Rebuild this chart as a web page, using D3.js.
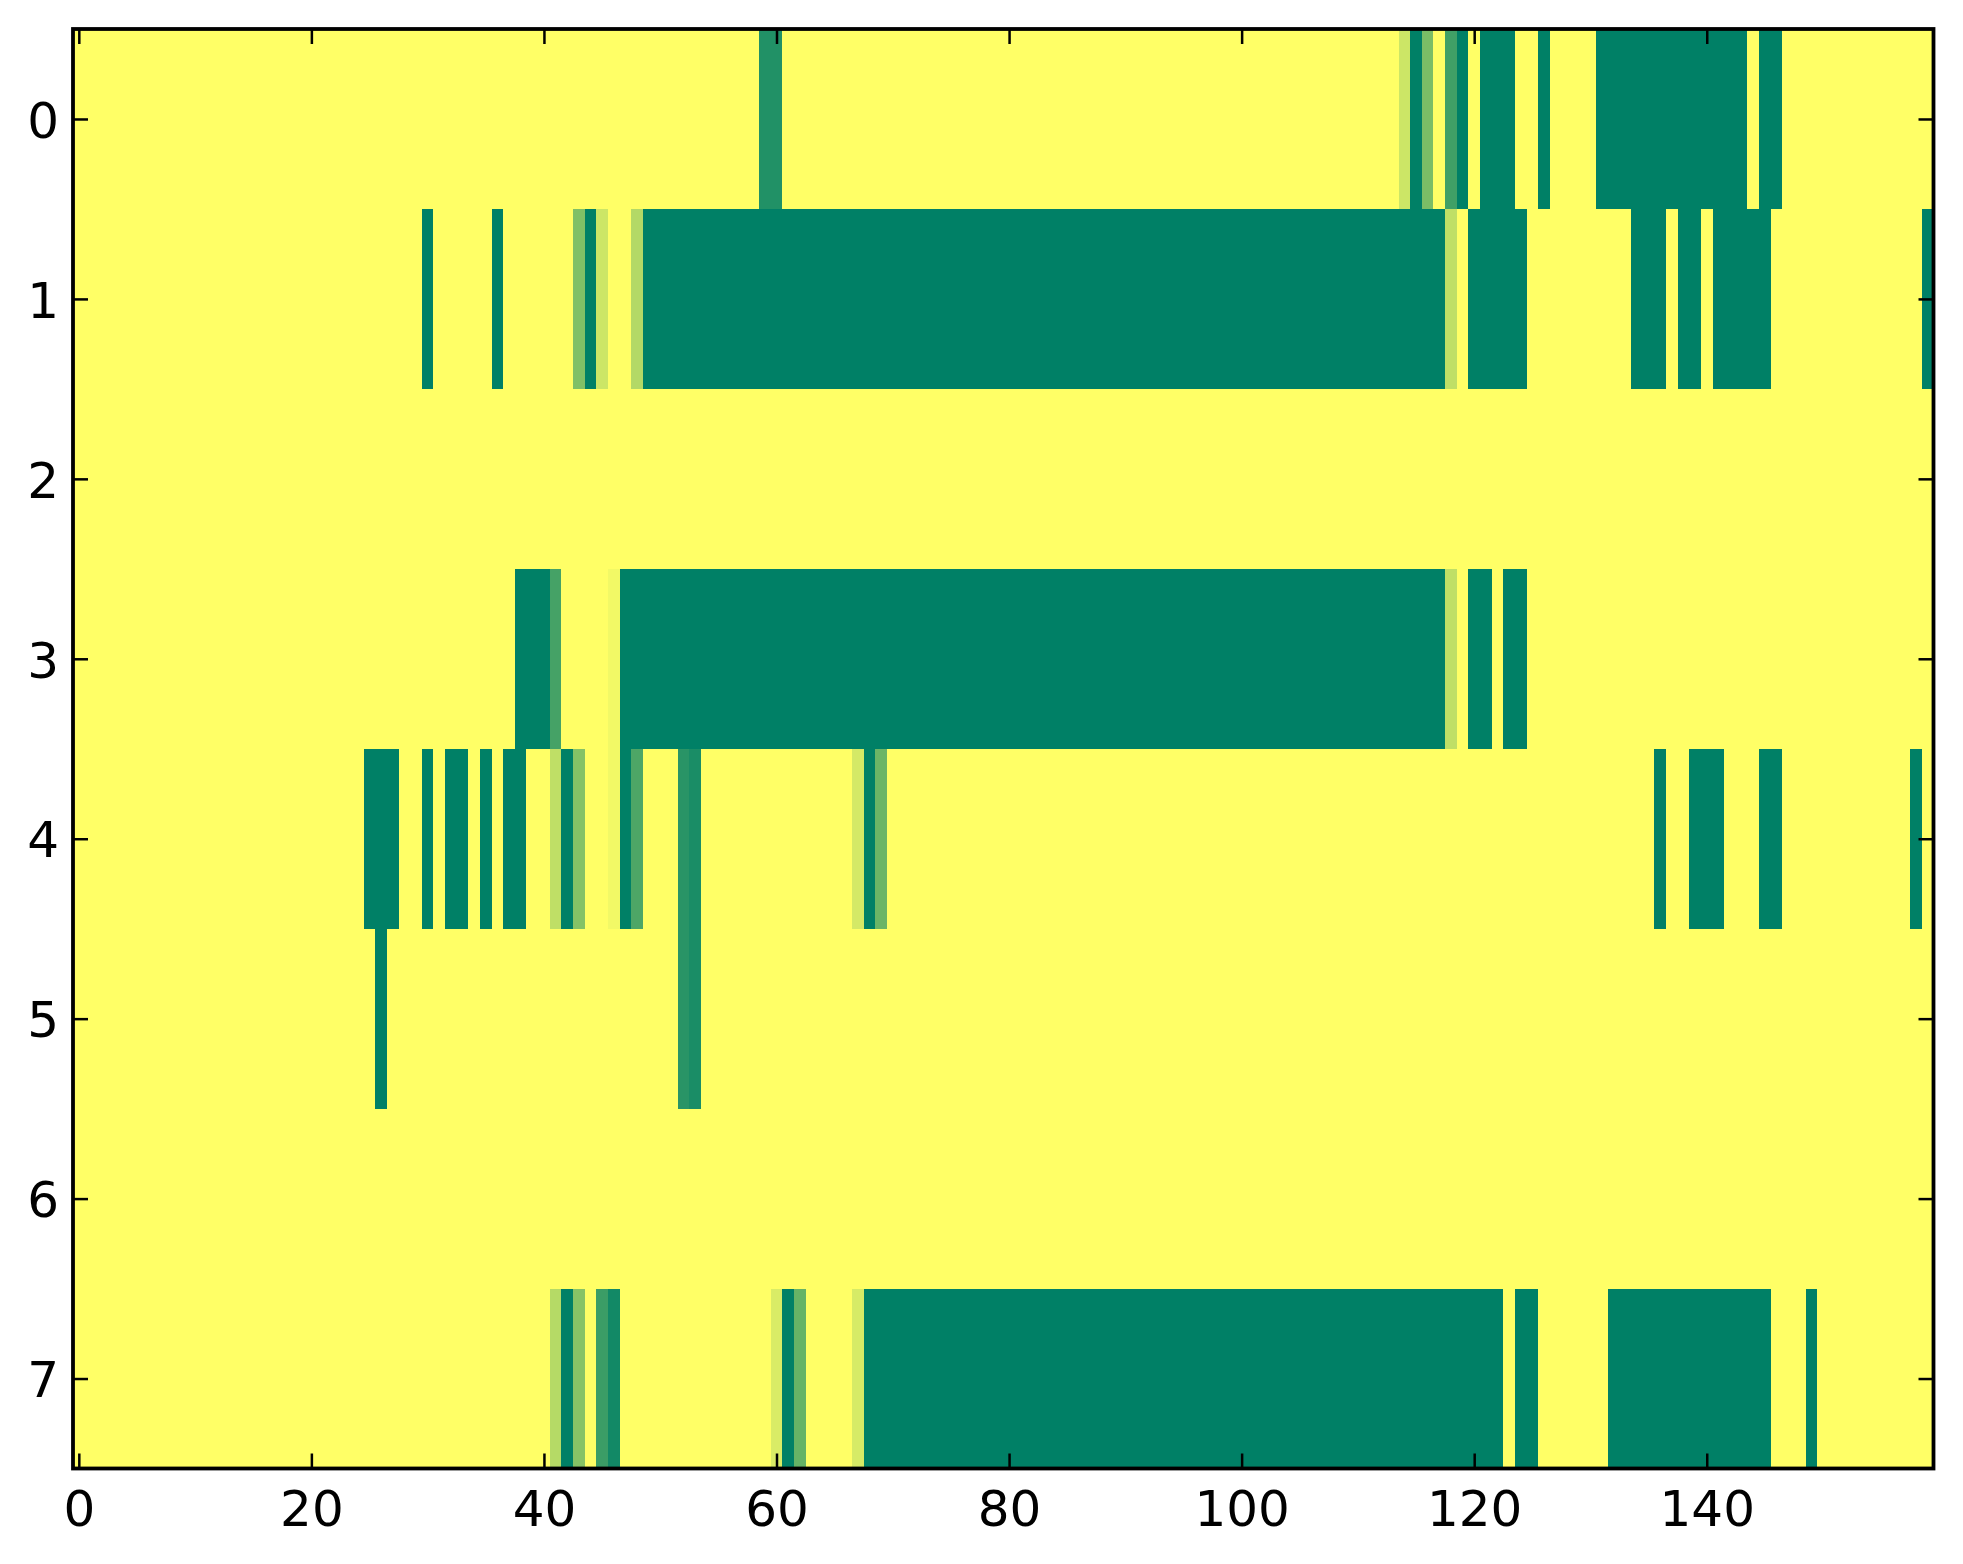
<!doctype html>
<html lang="en">

<head>
  <meta charset="UTF-8">
  <title>heatmap</title>
  <style type="text/css">
    body { margin: 0; background: #fff; }
    svg { display: block; }
    .tick text { font-family: "DejaVu Sans", sans-serif; font-size: 50px; fill: #000; }
  </style>
  <script src="https://cdn.jsdelivr.net/npm/d3@7/dist/d3.min.js"></script>
</head>

<body>
  <svg id="chart" width="1963" height="1564"></svg>
  <script>
    // values, one array per row, 160 columns each (0 = yellow, 1 = dark green)
    let row0 = [
      0, 0, 0, 0, 0, 0, 0, 0, 0, 0, 0, 0, 0, 0, 0, 0, 0, 0, 0, 0,
      0, 0, 0, 0, 0, 0, 0, 0, 0, 0, 0, 0, 0, 0, 0, 0, 0, 0, 0, 0,
      0, 0, 0, 0, 0, 0, 0, 0, 0, 0, 0, 0, 0, 0, 0, 0, 0, 0, 0, 0.87,
      0.87, 0, 0, 0, 0, 0, 0, 0, 0, 0, 0, 0, 0, 0, 0, 0, 0, 0, 0, 0,
      0, 0, 0, 0, 0, 0, 0, 0, 0, 0, 0, 0, 0, 0, 0, 0, 0, 0, 0, 0,
      0, 0, 0, 0, 0, 0, 0, 0, 0, 0, 0, 0, 0, 0, 0.2, 1, 0.52, 0, 0.75, 1,
      0, 1, 1, 1, 0, 0, 1, 0, 0, 0, 0, 1, 1, 1, 1, 1, 1, 1, 1, 1,
      1, 1, 1, 1, 0, 1, 1, 0, 0, 0, 0, 0, 0, 0, 0, 0, 0, 0, 0, 0
    ]
    let row1 = [
      0, 0, 0, 0, 0, 0, 0, 0, 0, 0, 0, 0, 0, 0, 0, 0, 0, 0, 0, 0,
      0, 0, 0, 0, 0, 0, 0, 0, 0, 0, 1, 0, 0, 0, 0, 0, 1, 0, 0, 0,
      0, 0, 0, 0.5, 1, 0.2, 0, 0, 0.3, 1, 1, 1, 1, 1, 1, 1, 1, 1, 1, 1,
      1, 1, 1, 1, 1, 1, 1, 1, 1, 1, 1, 1, 1, 1, 1, 1, 1, 1, 1, 1,
      1, 1, 1, 1, 1, 1, 1, 1, 1, 1, 1, 1, 1, 1, 1, 1, 1, 1, 1, 1,
      1, 1, 1, 1, 1, 1, 1, 1, 1, 1, 1, 1, 1, 1, 1, 1, 1, 1, 0.25, 0,
      1, 1, 1, 1, 1, 0, 0, 0, 0, 0, 0, 0, 0, 0, 1, 1, 1, 0, 1, 1,
      0, 1, 1, 1, 1, 1, 0, 0, 0, 0, 0, 0, 0, 0, 0, 0, 0, 0, 0, 1
    ]
    let row2 = [
      0, 0, 0, 0, 0, 0, 0, 0, 0, 0, 0, 0, 0, 0, 0, 0, 0, 0, 0, 0,
      0, 0, 0, 0, 0, 0, 0, 0, 0, 0, 0, 0, 0, 0, 0, 0, 0, 0, 0, 0,
      0, 0, 0, 0, 0, 0, 0, 0, 0, 0, 0, 0, 0, 0, 0, 0, 0, 0, 0, 0,
      0, 0, 0, 0, 0, 0, 0, 0, 0, 0, 0, 0, 0, 0, 0, 0, 0, 0, 0, 0,
      0, 0, 0, 0, 0, 0, 0, 0, 0, 0, 0, 0, 0, 0, 0, 0, 0, 0, 0, 0,
      0, 0, 0, 0, 0, 0, 0, 0, 0, 0, 0, 0, 0, 0, 0, 0, 0, 0, 0, 0,
      0, 0, 0, 0, 0, 0, 0, 0, 0, 0, 0, 0, 0, 0, 0, 0, 0, 0, 0, 0,
      0, 0, 0, 0, 0, 0, 0, 0, 0, 0, 0, 0, 0, 0, 0, 0, 0, 0, 0, 0
    ]
    let row3 = [
      0, 0, 0, 0, 0, 0, 0, 0, 0, 0, 0, 0, 0, 0, 0, 0, 0, 0, 0, 0,
      0, 0, 0, 0, 0, 0, 0, 0, 0, 0, 0, 0, 0, 0, 0, 0, 0, 0, 1, 1,
      1, 0.73, 0, 0, 0, 0, 0.05, 1, 1, 1, 1, 1, 1, 1, 1, 1, 1, 1, 1, 1,
      1, 1, 1, 1, 1, 1, 1, 1, 1, 1, 1, 1, 1, 1, 1, 1, 1, 1, 1, 1,
      1, 1, 1, 1, 1, 1, 1, 1, 1, 1, 1, 1, 1, 1, 1, 1, 1, 1, 1, 1,
      1, 1, 1, 1, 1, 1, 1, 1, 1, 1, 1, 1, 1, 1, 1, 1, 1, 1, 0.25, 0,
      1, 1, 0, 1, 1, 0, 0, 0, 0, 0, 0, 0, 0, 0, 0, 0, 0, 0, 0, 0,
      0, 0, 0, 0, 0, 0, 0, 0, 0, 0, 0, 0, 0, 0, 0, 0, 0, 0, 0, 0
    ]
    let row4 = [
      0, 0, 0, 0, 0, 0, 0, 0, 0, 0, 0, 0, 0, 0, 0, 0, 0, 0, 0, 0,
      0, 0, 0, 0, 0, 1, 1, 1, 0, 0, 1, 0, 1, 1, 0, 1, 0, 1, 1, 0,
      0, 0.25, 1, 0.48, 0, 0, 0.05, 1, 0.7, 0, 0, 0, 0.84, 0.9, 0, 0, 0, 0, 0, 0,
      0, 0, 0, 0, 0, 0, 0, 0.17, 1, 0.58, 0, 0, 0, 0, 0, 0, 0, 0, 0, 0,
      0, 0, 0, 0, 0, 0, 0, 0, 0, 0, 0, 0, 0, 0, 0, 0, 0, 0, 0, 0,
      0, 0, 0, 0, 0, 0, 0, 0, 0, 0, 0, 0, 0, 0, 0, 0, 0, 0, 0, 0,
      0, 0, 0, 0, 0, 0, 0, 0, 0, 0, 0, 0, 0, 0, 0, 0, 1, 0, 0, 1,
      1, 1, 0, 0, 0, 1, 1, 0, 0, 0, 0, 0, 0, 0, 0, 0, 0, 0, 1, 0
    ]
    let row5 = [
      0, 0, 0, 0, 0, 0, 0, 0, 0, 0, 0, 0, 0, 0, 0, 0, 0, 0, 0, 0,
      0, 0, 0, 0, 0, 0, 1, 0, 0, 0, 0, 0, 0, 0, 0, 0, 0, 0, 0, 0,
      0, 0, 0, 0, 0, 0, 0, 0, 0, 0, 0, 0, 0.84, 0.9, 0, 0, 0, 0, 0, 0,
      0, 0, 0, 0, 0, 0, 0, 0, 0, 0, 0, 0, 0, 0, 0, 0, 0, 0, 0, 0,
      0, 0, 0, 0, 0, 0, 0, 0, 0, 0, 0, 0, 0, 0, 0, 0, 0, 0, 0, 0,
      0, 0, 0, 0, 0, 0, 0, 0, 0, 0, 0, 0, 0, 0, 0, 0, 0, 0, 0, 0,
      0, 0, 0, 0, 0, 0, 0, 0, 0, 0, 0, 0, 0, 0, 0, 0, 0, 0, 0, 0,
      0, 0, 0, 0, 0, 0, 0, 0, 0, 0, 0, 0, 0, 0, 0, 0, 0, 0, 0, 0
    ]
    let row6 = [
      0, 0, 0, 0, 0, 0, 0, 0, 0, 0, 0, 0, 0, 0, 0, 0, 0, 0, 0, 0,
      0, 0, 0, 0, 0, 0, 0, 0, 0, 0, 0, 0, 0, 0, 0, 0, 0, 0, 0, 0,
      0, 0, 0, 0, 0, 0, 0, 0, 0, 0, 0, 0, 0, 0, 0, 0, 0, 0, 0, 0,
      0, 0, 0, 0, 0, 0, 0, 0, 0, 0, 0, 0, 0, 0, 0, 0, 0, 0, 0, 0,
      0, 0, 0, 0, 0, 0, 0, 0, 0, 0, 0, 0, 0, 0, 0, 0, 0, 0, 0, 0,
      0, 0, 0, 0, 0, 0, 0, 0, 0, 0, 0, 0, 0, 0, 0, 0, 0, 0, 0, 0,
      0, 0, 0, 0, 0, 0, 0, 0, 0, 0, 0, 0, 0, 0, 0, 0, 0, 0, 0, 0,
      0, 0, 0, 0, 0, 0, 0, 0, 0, 0, 0, 0, 0, 0, 0, 0, 0, 0, 0, 0
    ]
    let row7 = [
      0, 0, 0, 0, 0, 0, 0, 0, 0, 0, 0, 0, 0, 0, 0, 0, 0, 0, 0, 0,
      0, 0, 0, 0, 0, 0, 0, 0, 0, 0, 0, 0, 0, 0, 0, 0, 0, 0, 0, 0,
      0, 0.29, 1, 0.47, 0, 0.77, 0.93, 0, 0, 0, 0, 0, 0, 0, 0, 0, 0, 0, 0, 0,
      0.15, 1, 0.6, 0, 0, 0, 0, 0.16, 1, 1, 1, 1, 1, 1, 1, 1, 1, 1, 1, 1,
      1, 1, 1, 1, 1, 1, 1, 1, 1, 1, 1, 1, 1, 1, 1, 1, 1, 1, 1, 1,
      1, 1, 1, 1, 1, 1, 1, 1, 1, 1, 1, 1, 1, 1, 1, 1, 1, 1, 1, 1,
      1, 1, 1, 0, 1, 1, 0, 0, 0, 0, 0, 0, 1, 1, 1, 1, 1, 1, 1, 1,
      1, 1, 1, 1, 1, 1, 0, 0, 0, 1, 0, 0, 0, 0, 0, 0, 0, 0, 0, 0
    ]
    let xTickValues = [0, 20, 40, 60, 80, 100, 120, 140]
    let yTickValues = [0, 1, 2, 3, 4, 5, 6, 7]

    let rows = [row0, row1, row2, row3, row4, row5, row6, row7]
    let nCols = row0.length

    // plot area
    let plotLeft = 73, plotRight = 1933.5, plotTop = 29, plotBottom = 1468.5

    let svg = d3.select('#chart')

    // cell scales (bands) and tick scales (linear, pixel centres at integers)
    let xBand = d3.scaleBand().domain(d3.range(nCols)).range([plotLeft, plotRight])
    let yBand = d3.scaleBand().domain(d3.range(rows.length)).range([plotTop, plotBottom])
    let x = d3.scaleLinear().domain([-0.5, nCols - 0.5]).range([plotLeft, plotRight])
    let y = d3.scaleLinear().domain([-0.5, rows.length - 0.5]).range([plotTop, plotBottom])

    // summer_r colormap: 0 -> yellow, 1 -> green
    let color = d3.scaleLinear().domain([0, 1]).range(['#ffff66', '#008066'])

    let cells = []
    rows.forEach(function (r, i) {
      r.forEach(function (v, j) {
        cells.push({ row: i, col: j, value: v })
      })
    })

    svg.append('g')
      .attr('shape-rendering', 'crispEdges')
      .selectAll('rect')
      .data(cells)
      .enter().append('rect')
      .attr('x', function (d) { return xBand(d.col) })
      .attr('y', function (d) { return yBand(d.row) })
      .attr('width', xBand.bandwidth() + 0.6)
      .attr('height', yBand.bandwidth() + 0.6)
      .attr('fill', function (d) { return color(d.value) })

    let tickLen = 15

    function styleAxis(g) {
      g.select('.domain').remove()
      g.selectAll('.tick line').attr('stroke', '#000').attr('stroke-width', 2.5)
    }

    svg.append('g')
      .attr('transform', 'translate(0,' + plotBottom + ')')
      .call(d3.axisBottom(x).tickValues(xTickValues).tickSizeInner(-tickLen).tickSizeOuter(0).tickPadding(21.5))
      .call(styleAxis)

    svg.append('g')
      .attr('transform', 'translate(0,' + plotTop + ')')
      .call(d3.axisTop(x).tickValues(xTickValues).tickSizeInner(-tickLen).tickSizeOuter(0).tickFormat(''))
      .call(styleAxis)

    svg.append('g')
      .attr('transform', 'translate(' + plotLeft + ',0)')
      .call(d3.axisLeft(y).tickValues(yTickValues).tickSizeInner(-tickLen).tickSizeOuter(0).tickPadding(14))
      .call(styleAxis)
      .selectAll('text').attr('dy', '0.365em')

    svg.append('g')
      .attr('transform', 'translate(' + plotRight + ',0)')
      .call(d3.axisRight(y).tickValues(yTickValues).tickSizeInner(-tickLen).tickSizeOuter(0).tickFormat(''))
      .call(styleAxis)

    svg.selectAll('.tick text').attr('font-size', null).attr('font-family', null)

    // frame
    svg.append('rect')
      .attr('x', plotLeft)
      .attr('y', plotTop)
      .attr('width', plotRight - plotLeft)
      .attr('height', plotBottom - plotTop)
      .attr('fill', 'none')
      .attr('stroke', '#000')
      .attr('stroke-width', 3.8)
  </script>
</body>

</html>
